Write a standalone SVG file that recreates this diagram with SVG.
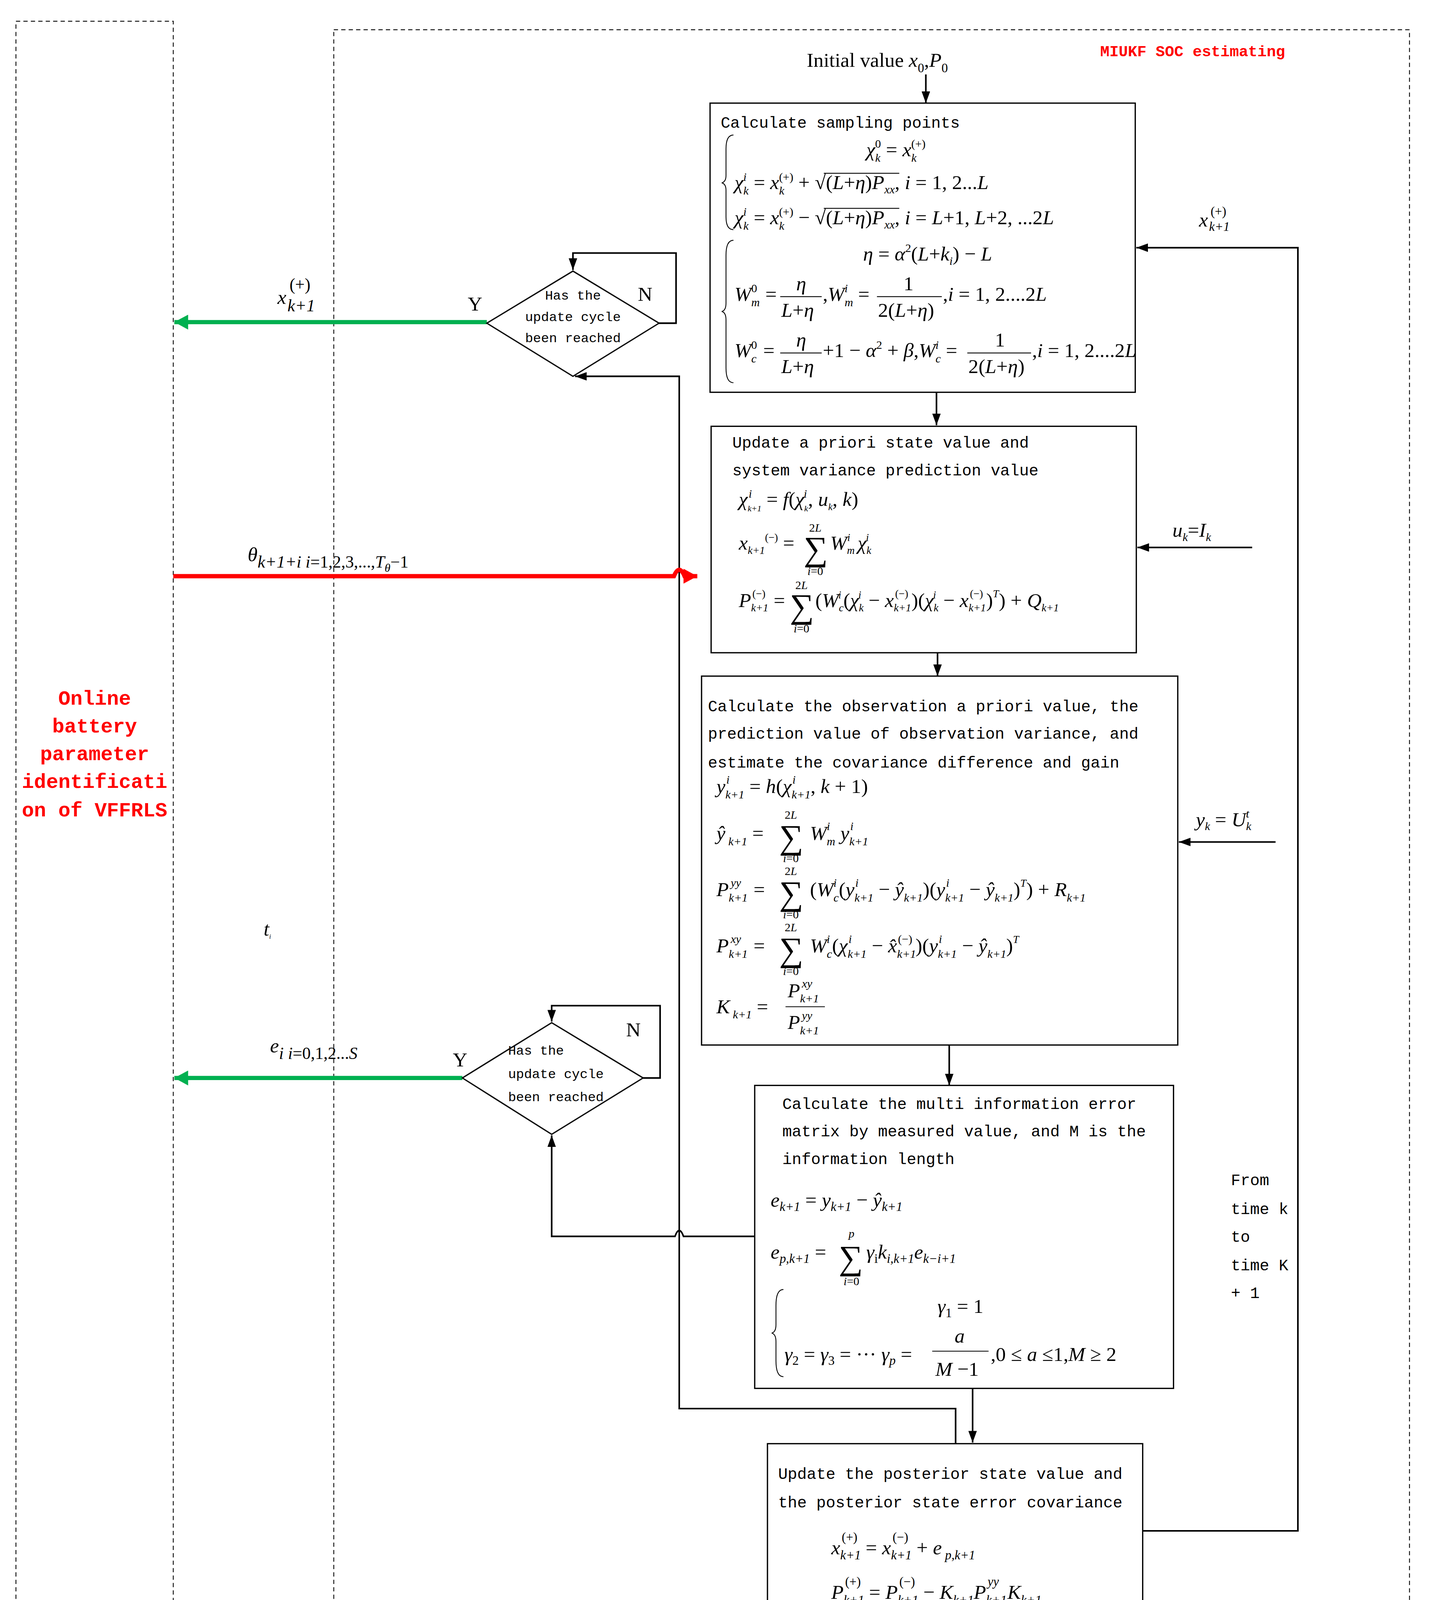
<svg xmlns="http://www.w3.org/2000/svg" width="3674" height="4269" viewBox="0 0 3674 4269">
<style>
.t{font-family:"Liberation Mono",monospace;font-size:15px;fill:#000}
.d{font-family:"Liberation Mono",monospace;font-size:12.5px;fill:#000}
.r{font-family:"Liberation Mono",monospace;font-weight:bold;fill:#f00}
.m{font-family:"Liberation Serif","DejaVu Serif",serif;font-style:italic;font-size:19px;fill:#000}
.u{font-style:normal}
.s{font-size:11px}
.g{font-family:"Liberation Serif","DejaVu Serif",serif;font-size:32px;fill:#000;font-style:normal}
.lim{font-family:"Liberation Serif","DejaVu Serif",serif;font-style:italic;font-size:11px;fill:#000;text-anchor:middle}
.box{fill:none;stroke:#000;stroke-width:1.2}
.dash{fill:none;stroke:#000;stroke-width:0.8;stroke-dasharray:4 3}
.c{fill:none;stroke:#000;stroke-width:1.5}
.br{fill:none;stroke:#000;stroke-width:0.8}
</style>
<defs>
<marker id="ab" markerUnits="userSpaceOnUse" markerWidth="12" markerHeight="8" refX="11" refY="4" orient="auto"><path d="M0,0L11,4L0,8z" fill="#000"/></marker>
<marker id="ag" markerUnits="userSpaceOnUse" markerWidth="14" markerHeight="14" refX="13" refY="7" orient="auto"><path d="M0,0L13,7L0,14z" fill="#00b050"/></marker>
<marker id="ar" markerUnits="userSpaceOnUse" markerWidth="14" markerHeight="14" refX="13" refY="7" orient="auto"><path d="M0,0L13,7L0,14z" fill="#f00"/></marker>
</defs>
<rect width="3674" height="4269" fill="#fff"/>
<g transform="scale(2.7215)">
<g id="regions">
<rect class="dash" x="15" y="20" width="148" height="1525"/>
<rect class="dash" x="314" y="28" width="1012" height="1525"/>
<text class="r" x="1035" y="53" font-size="14.5">MIUKF SOC estimating</text>
<g class="r" font-size="19" text-anchor="middle">
<text x="89" y="663">Online</text>
<text x="89" y="689">battery</text>
<text x="89" y="715">parameter</text>
<text x="89" y="741">identificati</text>
<text x="89" y="768">on of VFFRLS</text>
</g>
<text class="m" x="248" y="880" font-size="10">t<tspan font-size="6" dy="3">i</tspan></text>
</g>

<g id="connectors">
<path class="c" d="M871,70V97" marker-end="url(#ab)"/>
<path class="c" d="M881,369V400" marker-end="url(#ab)"/>
<path class="c" d="M882,614V636" marker-end="url(#ab)"/>
<path class="c" d="M893,983V1021" marker-end="url(#ab)"/>
<path class="c" d="M915,1306V1357" marker-end="url(#ab)"/>
<path class="c" d="M1075,1440H1221V233H1069" marker-end="url(#ab)"/>
<path class="c" d="M1178,515H1070" marker-end="url(#ab)"/>
<path class="c" d="M1200,792H1109" marker-end="url(#ab)"/>
<path class="c" d="M899,1358V1325H639V354H541" marker-end="url(#ab)"/>
<path class="c" d="M620,304H636V238H539V254" marker-end="url(#ab)"/>
<path class="c" d="M605,1014H621V946H519V961" marker-end="url(#ab)"/>
<path class="c" d="M710,1163H643Q639,1152 635,1163H519V1068" marker-end="url(#ab)"/>
<path d="M458,303H164" stroke="#00b050" stroke-width="4" fill="none" marker-end="url(#ag)"/>
<path d="M435,1014H164" stroke="#00b050" stroke-width="4" fill="none" marker-end="url(#ag)"/>
<path d="M163,542H634Q639,530 644,542H656" stroke="#f00" stroke-width="4" fill="none" marker-end="url(#ar)"/>
<text class="m" x="261" y="286" font-size="28">x<tspan font-size="16" dx="1" dy="7">k+1</tspan><tspan class="u" font-size="16" dx="-24" dy="-20">(+)</tspan></text>
<text class="m u" x="440" y="292" font-size="15">Y</text>
<text class="m u" x="600" y="283" font-size="15">N</text>
<text class="m" x="233" y="528" font-size="28">θ<tspan font-size="16" dy="6">k+1+i  i<tspan class="u">=1,2,3,...,</tspan>T<tspan font-size="11" dy="4">θ</tspan><tspan class="u" dy="-4">−1</tspan></tspan></text>
<text class="m" x="254" y="990" font-size="28">e<tspan font-size="16" dy="6">i  i<tspan class="u">=0,1,2...</tspan>S</tspan></text>
<text class="m u" x="426" y="1003" font-size="15">Y</text>
<text class="m u" x="589" y="975" font-size="15">N</text>
<text class="m" x="1128" y="213" font-size="18">x<tspan font-size="12" dx="1" dy="4">k+1</tspan><tspan class="u" font-size="12" dx="-18" dy="-14">(+)</tspan></text>
<text class="m" x="1103" y="505" font-size="17">u<tspan font-size="11" dy="4">k</tspan><tspan class="u" dy="-4">=</tspan>I<tspan font-size="11" dy="4">k</tspan></text>
<text class="m" x="1125" y="777" font-size="17">y<tspan font-size="11" dy="4">k</tspan><tspan class="u" dy="-4"> = </tspan>U<tspan font-size="11" dy="4">k</tspan><tspan font-size="11" dx="-5" dy="-12">t</tspan></text>
<g class="t">
<text x="1158" y="1115">From</text>
<text x="1158" y="1142">time k</text>
<text x="1158" y="1168">to</text>
<text x="1158" y="1195">time K</text>
<text x="1158" y="1221">+ 1</text>
</g>
</g>

<g id="init">
<text class="m u" x="759" y="63" font-size="19">Initial value <tspan style="font-style:italic">x</tspan><tspan font-size="12" dy="5">0</tspan><tspan dy="-5">,</tspan><tspan style="font-style:italic">P</tspan><tspan font-size="12" dy="5">0</tspan></text>
</g>

<g id="dec1">
<path class="box" d="M539,255L620,304L539,354L458,304Z"/>
<g class="d" text-anchor="middle"><text x="539" y="282">Has the</text><text x="539" y="302">update cycle</text><text x="539" y="322">been reached</text></g>
</g>
<g id="dec2">
<path class="box" d="M519,962L605,1014L519,1067L435,1014Z"/>
<g class="d"><text x="478" y="992">Has the</text><text x="478" y="1014">update cycle</text><text x="478" y="1036">been reached</text></g>
</g>

<g id="box1">
<rect class="box" x="668" y="97" width="400" height="272"/>
<text class="t" x="678" y="120">Calculate sampling points</text>
<path class="br" d="M690,127Q683,127 683,140V165Q683,171 679,172Q683,173 683,179V204Q683,216 690,216"/>
<text class="m" x="815" y="147">χ<tspan class="s" dy="5">k</tspan><tspan class="s u" dx="-5" dy="-13">0</tspan><tspan class="u" dy="8"> = </tspan>x<tspan class="s" dy="5">k</tspan><tspan class="s u" dx="-5" dy="-13">(+)</tspan></text>
<text class="m" x="691" y="178">χ<tspan class="s" dy="5">k</tspan><tspan class="s" dx="-5" dy="-13">i</tspan><tspan class="u" dx="2" dy="8"> = </tspan>x<tspan class="s" dy="5">k</tspan><tspan class="s u" dx="-5" dy="-13">(+)</tspan><tspan class="u" dy="8"> + √(</tspan>L<tspan class="u">+</tspan>η<tspan class="u">)</tspan>P<tspan class="s" dy="4">xx</tspan><tspan class="u" dy="-4">, </tspan>i<tspan class="u"> = 1, 2...</tspan>L</text>
<path class="br" d="M775,163H846"/>
<text class="m" x="691" y="211">χ<tspan class="s" dy="5">k</tspan><tspan class="s" dx="-5" dy="-13">i</tspan><tspan class="u" dx="2" dy="8"> = </tspan>x<tspan class="s" dy="5">k</tspan><tspan class="s u" dx="-5" dy="-13">(+)</tspan><tspan class="u" dy="8"> − √(</tspan>L<tspan class="u">+</tspan>η<tspan class="u">)</tspan>P<tspan class="s" dy="4">xx</tspan><tspan class="u" dy="-4">, </tspan>i<tspan class="u"> = </tspan>L<tspan class="u">+1, </tspan>L<tspan class="u">+2, ...2</tspan>L</text>
<path class="br" d="M775,196H846"/>
<path class="br" d="M690,226Q683,226 683,240V285Q683,292 679,293Q683,294 683,301V346Q683,360 690,360"/>
<text class="m" x="812" y="245">η<tspan class="u"> = </tspan>α<tspan class="s u" dy="-8">2</tspan><tspan class="u" dy="8">(</tspan>L<tspan class="u">+</tspan>k<tspan class="s" dy="4">i</tspan><tspan class="u" dy="-4">) − </tspan>L</text>
<text class="m" x="691" y="283">W<tspan class="s" dy="5">m</tspan><tspan class="s u" dx="-8" dy="-13">0</tspan><tspan class="u" dx="3" dy="8"> =</tspan></text>
<text class="m" x="749" y="273">η</text><path class="br" d="M734,279H773"/><text class="m" x="735" y="298">L<tspan class="u">+</tspan>η</text>
<text class="m" x="774" y="283"><tspan class="u">,</tspan>W<tspan class="s" dy="5">m</tspan><tspan class="s" dx="-8" dy="-13">i</tspan><tspan class="u" dx="5" dy="8"> =</tspan></text>
<text class="m u" x="850" y="273">1</text><path class="br" d="M825,279H886"/><text class="m" x="826" y="298"><tspan class="u">2(</tspan>L<tspan class="u">+</tspan>η<tspan class="u">)</tspan></text>
<text class="m" x="887" y="283"><tspan class="u">,</tspan>i<tspan class="u"> = 1, 2....2</tspan>L</text>
<text class="m" x="691" y="336">W<tspan class="s" dy="5">c</tspan><tspan class="s u" dx="-5" dy="-13">0</tspan><tspan class="u" dx="1" dy="8"> =</tspan></text>
<text class="m" x="749" y="326">η</text><path class="br" d="M734,332H773"/><text class="m" x="735" y="351">L<tspan class="u">+</tspan>η</text>
<text class="m" x="774" y="336"><tspan class="u">+1 − </tspan>α<tspan class="s u" dy="-8">2</tspan><tspan class="u" dy="8"> + </tspan>β<tspan class="u">,</tspan>W<tspan class="s" dy="5">c</tspan><tspan class="s" dx="-5" dy="-13">i</tspan><tspan class="u" dx="2" dy="8"> =</tspan></text>
<text class="m u" x="936" y="326">1</text><path class="br" d="M910,332H970"/><text class="m" x="911" y="351"><tspan class="u">2(</tspan>L<tspan class="u">+</tspan>η<tspan class="u">)</tspan></text>
<text class="m" x="971" y="336"><tspan class="u">,</tspan>i<tspan class="u"> = 1, 2....2</tspan>L</text>
</g>

<g id="box2">
<rect class="box" x="669" y="401" width="400" height="213"/>
<text class="t" x="689" y="421">Update a priori state value and</text>
<text class="t" x="689" y="447">system variance prediction value</text>
<text class="m" x="695" y="476">χ<tspan font-size="8" dy="5">k+1</tspan><tspan class="s" dx="-12" dy="-13">i</tspan><tspan class="u" dx="9" dy="8"> = </tspan>f<tspan class="u">(</tspan>χ<tspan font-size="8" dy="5">k</tspan><tspan class="s" dx="-4" dy="-13">i</tspan><tspan class="u" dx="1" dy="8">, </tspan>u<tspan font-size="9" dy="4">k</tspan><tspan class="u" dy="-4">, </tspan>k<tspan class="u">)</tspan></text>
<text class="m" x="695" y="517" font-size="16">x<tspan font-size="10" dy="4">k+1</tspan><tspan class="u" font-size="10" dy="-12">(−)</tspan><tspan class="u" dy="8"> =</tspan></text>
<text class="g" x="756" y="527">∑</text>
<text class="lim" x="767" y="500"><tspan class="u">2</tspan>L</text>
<text class="lim" x="767" y="541">i<tspan class="u">=0</tspan></text>
<text class="m" x="781" y="517" font-size="16">W<tspan font-size="10" dy="4">m</tspan><tspan font-size="10" dx="-7" dy="-12">i</tspan><tspan dx="7" dy="8">χ</tspan><tspan font-size="10" dy="4">k</tspan><tspan font-size="10" dx="-5" dy="-12">i</tspan></text>
<text class="m" x="695" y="571" font-size="16">P<tspan font-size="10" dy="4">k+1</tspan><tspan class="u" font-size="10" dx="-15" dy="-13">(−)</tspan><tspan class="u" dx="3" dy="9"> =</tspan></text>
<text class="g" x="743" y="581">∑</text>
<text class="lim" x="754" y="554"><tspan class="u">2</tspan>L</text>
<text class="lim" x="754" y="595">i<tspan class="u">=0</tspan></text>
<text class="m" x="767" y="571" font-size="16"><tspan class="u">(</tspan>W<tspan font-size="10" dy="4">c</tspan><tspan font-size="10" dx="-5" dy="-12">i</tspan><tspan class="u" dx="2" dy="8">(</tspan>χ<tspan font-size="10" dy="4">k</tspan><tspan font-size="10" dx="-5" dy="-12">i</tspan><tspan class="u" dx="2" dy="8"> − </tspan>x<tspan font-size="10" dy="4">k+1</tspan><tspan class="u" font-size="10" dx="-15" dy="-13">(−)</tspan><tspan class="u" dx="3" dy="9">)(</tspan>χ<tspan font-size="10" dy="4">k</tspan><tspan font-size="10" dx="-5" dy="-12">i</tspan><tspan class="u" dx="2" dy="8"> − </tspan>x<tspan font-size="10" dy="4">k+1</tspan><tspan class="u" font-size="10" dx="-15" dy="-13">(−)</tspan><tspan class="u" dx="3" dy="9">)</tspan><tspan font-size="10" dy="-9">T</tspan><tspan class="u" dy="9">) + </tspan>Q<tspan font-size="10" dy="4">k+1</tspan></text>
</g>

<g id="box3">
<rect class="box" x="660" y="636" width="448" height="347"/>
<text class="t" x="666" y="669">Calculate the observation a priori value, the</text>
<text class="t" x="666" y="695">prediction value of observation variance, and</text>
<text class="t" x="666" y="722">estimate the covariance difference and gain</text>
<text class="m" x="674" y="746" font-size="17">y<tspan font-size="11" dy="5">k+1</tspan><tspan font-size="11" dx="-17" dy="-14">i</tspan><tspan class="u" dx="14" dy="9">  =  </tspan>h<tspan class="u">(</tspan>χ<tspan font-size="11" dy="5">k+1</tspan><tspan font-size="11" dx="-17" dy="-14">i</tspan><tspan class="u" dx="14" dy="9">, </tspan>k<tspan class="u"> + 1)</tspan></text>
<text class="m" x="674" y="790" font-size="17">ŷ<tspan font-size="11" dy="5"> k+1</tspan><tspan class="u" dy="-5">  =</tspan></text>
<text class="g" x="733" y="798">∑</text>
<text class="lim" x="744" y="770"><tspan class="u">2</tspan>L</text>
<text class="lim" x="744" y="811">i<tspan class="u">=0</tspan></text>
<text class="m" x="762" y="790" font-size="17">W<tspan font-size="11" dy="5">m</tspan><tspan font-size="11" dx="-8" dy="-14">i</tspan><tspan dx="5" dy="9"> y</tspan><tspan font-size="11" dy="5">k+1</tspan><tspan font-size="11" dx="-17" dy="-14">i</tspan></text>
<text class="m" x="674" y="843" font-size="17">P<tspan font-size="11" dy="5">k+1</tspan><tspan font-size="11" dx="-16" dy="-14">yy</tspan><tspan class="u" dx="7" dy="9">  =</tspan></text>
<text class="g" x="733" y="851">∑</text>
<text class="lim" x="744" y="823"><tspan class="u">2</tspan>L</text>
<text class="lim" x="744" y="864">i<tspan class="u">=0</tspan></text>
<text class="m" x="762" y="843" font-size="17"><tspan class="u">(</tspan>W<tspan font-size="11" dy="5">c</tspan><tspan font-size="11" dx="-5" dy="-14">i</tspan><tspan class="u" dx="2" dy="9">(</tspan>y<tspan font-size="11" dy="5">k+1</tspan><tspan font-size="11" dx="-17" dy="-14">i</tspan><tspan class="u" dx="14" dy="9"> − </tspan>ŷ<tspan font-size="11" dy="5">k+1</tspan><tspan class="u" dy="-5">)(</tspan>y<tspan font-size="11" dy="5">k+1</tspan><tspan font-size="11" dx="-17" dy="-14">i</tspan><tspan class="u" dx="14" dy="9"> − </tspan>ŷ<tspan font-size="11" dy="5">k+1</tspan><tspan class="u" dy="-5">)</tspan><tspan font-size="10" dy="-9">T</tspan><tspan class="u" dy="9">) + </tspan>R<tspan font-size="11" dy="5">k+1</tspan></text>
<text class="m" x="674" y="896" font-size="17">P<tspan font-size="11" dy="5">k+1</tspan><tspan font-size="11" dx="-16" dy="-14">xy</tspan><tspan class="u" dx="7" dy="9">  =</tspan></text>
<text class="g" x="733" y="904">∑</text>
<text class="lim" x="744" y="876"><tspan class="u">2</tspan>L</text>
<text class="lim" x="744" y="917">i<tspan class="u">=0</tspan></text>
<text class="m" x="762" y="896" font-size="17">W<tspan font-size="11" dy="5">c</tspan><tspan font-size="11" dx="-5" dy="-14">i</tspan><tspan class="u" dx="2" dy="9">(</tspan>χ<tspan font-size="11" dy="5">k+1</tspan><tspan font-size="11" dx="-17" dy="-14">i</tspan><tspan class="u" dx="14" dy="9"> − </tspan>x̂<tspan font-size="11" dy="5">k+1</tspan><tspan class="u" font-size="11" dx="-17" dy="-14">(−)</tspan><tspan class="u" dx="3" dy="9">)(</tspan>y<tspan font-size="11" dy="5">k+1</tspan><tspan font-size="11" dx="-17" dy="-14">i</tspan><tspan class="u" dx="14" dy="9"> − </tspan>ŷ<tspan font-size="11" dy="5">k+1</tspan><tspan class="u" dy="-5">)</tspan><tspan font-size="10" dy="-9">T</tspan></text>
<text class="m" x="674" y="953" font-size="17">K<tspan font-size="11" dy="5"> k+1</tspan><tspan class="u" dy="-5">  =</tspan></text>
<text class="m" x="741" y="938" font-size="17">P<tspan font-size="11" dy="5">k+1</tspan><tspan font-size="11" dx="-16" dy="-14">xy</tspan></text>
<path class="br" d="M739,947H776"/>
<text class="m" x="741" y="968" font-size="17">P<tspan font-size="11" dy="5">k+1</tspan><tspan font-size="11" dx="-16" dy="-14">yy</tspan></text>
</g>

<g id="box4">
<rect class="box" x="710" y="1021" width="394" height="285"/>
<text class="t" x="736" y="1043">Calculate the multi information error</text>
<text class="t" x="736" y="1069">matrix by  measured value, and M is the</text>
<text class="t" x="736" y="1095">information length</text>
<text class="m" x="725" y="1135" font-size="20">e<tspan font-size="12" dy="4">k+1</tspan><tspan class="u" dy="-4"> = </tspan>y<tspan font-size="12" dy="4">k+1</tspan><tspan class="u" dy="-4"> − </tspan>ŷ<tspan font-size="12" dy="4">k+1</tspan></text>
<text class="m" x="725" y="1184" font-size="20">e<tspan font-size="12" dy="4">p,k+1</tspan><tspan class="u" dy="-4"> =</tspan></text>
<text class="g" x="789" y="1194" font-size="34">∑</text>
<text class="lim" x="801" y="1164" font-size="12">p</text>
<text class="lim" x="801" y="1209" font-size="12">i<tspan class="u">=0</tspan></text>
<text class="m" x="815" y="1184" font-size="20">γ<tspan class="u" font-size="12" dy="4">i</tspan><tspan dy="-4">k</tspan><tspan font-size="12" dy="4">i,k+1</tspan><tspan dy="-4">e</tspan><tspan font-size="12" dy="4">k−i+1</tspan></text>
<path class="br" d="M737,1213Q730,1213 730,1228V1246Q730,1253 726,1254Q730,1255 730,1262V1280Q730,1295 737,1295"/>
<text class="m" x="882" y="1235" font-size="20">γ<tspan class="u" font-size="12" dy="4">1</tspan><tspan class="u" dy="-4"> = 1</tspan></text>
<text class="m" x="738" y="1280" font-size="20">γ<tspan class="u" font-size="12" dy="4">2</tspan><tspan class="u" dy="-4"> = </tspan>γ<tspan class="u" font-size="12" dy="4">3</tspan><tspan class="u" dy="-4"> = ··· </tspan>γ<tspan font-size="12" dy="4">p</tspan><tspan class="u" dy="-4"> =</tspan></text>
<text class="m" x="898" y="1263" font-size="20">a</text>
<path class="br" d="M877,1271H930" stroke-width="1.2"/>
<text class="m" x="880" y="1294" font-size="20">M<tspan class="u"> −1</tspan></text>
<text class="m" x="932" y="1280" font-size="20"><tspan class="u">,0 ≤ </tspan>a<tspan class="u"> ≤1,</tspan>M<tspan class="u"> ≥ 2</tspan></text>
</g>

<g id="box5">
<rect class="box" x="722" y="1358" width="353" height="166"/>
<text class="t" x="732" y="1391">Update the posterior state value and</text>
<text class="t" x="732" y="1418">the posterior state error covariance</text>
<text class="m" x="782" y="1462" font-size="21">x<tspan font-size="12" dy="5">k+1</tspan><tspan class="u" font-size="12" dx="-18" dy="-17">(+)</tspan><tspan class="u" dx="3" dy="12"> = </tspan>x<tspan font-size="12" dy="5">k+1</tspan><tspan class="u" font-size="12" dx="-18" dy="-17">(−)</tspan><tspan class="u" dx="3" dy="12"> + </tspan>e<tspan font-size="12" dy="5"> p,k+1</tspan></text>
<text class="m" x="782" y="1504" font-size="21">P<tspan font-size="12" dy="5">k+1</tspan><tspan class="u" font-size="12" dx="-18" dy="-17">(+)</tspan><tspan class="u" dx="3" dy="12"> = </tspan>P<tspan font-size="12" dy="5">k+1</tspan><tspan class="u" font-size="12" dx="-18" dy="-17">(−)</tspan><tspan class="u" dx="3" dy="12"> − </tspan>K<tspan font-size="12" dy="5">k+1</tspan><tspan dy="-5">P</tspan><tspan font-size="12" dy="5">k+1</tspan><tspan font-size="12" dx="-18" dy="-17">yy</tspan><tspan dx="8" dy="12">K</tspan><tspan font-size="12" dy="5">k+1</tspan></text>
</g>
</g>
</svg>
